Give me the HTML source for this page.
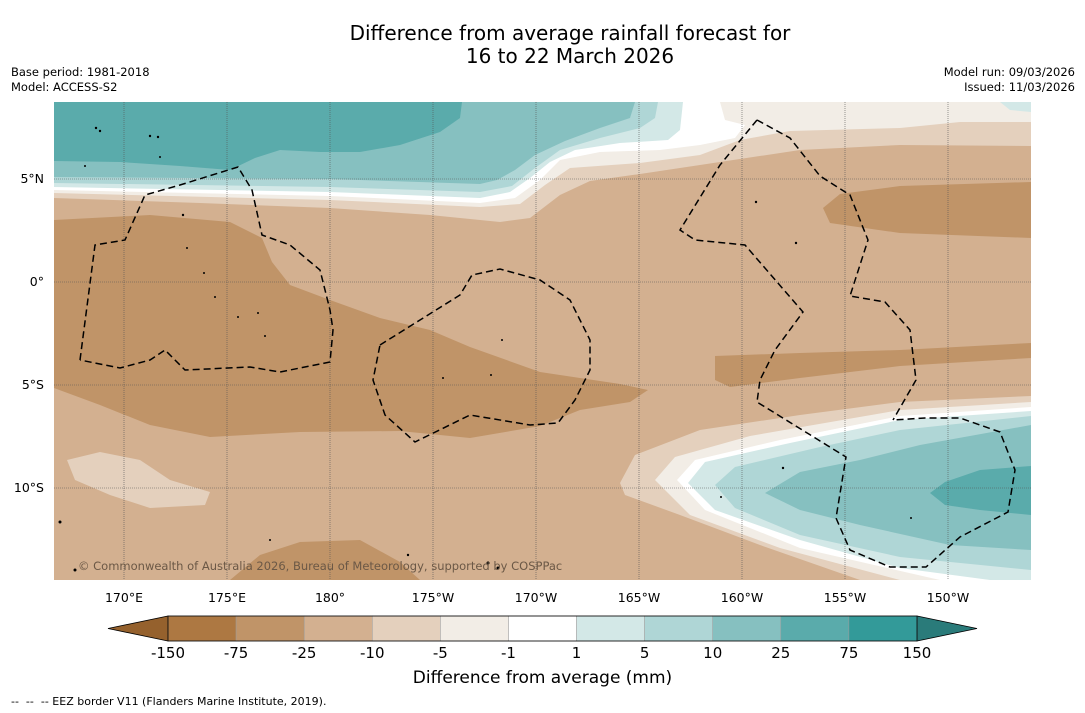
<!DOCTYPE html>
<html><head><meta charset="utf-8">
<style>
body{margin:0;background:#fff;font-family:"DejaVu Sans","Liberation Sans",sans-serif;}
#wrap{position:relative;width:1085px;height:713px;overflow:hidden;background:#fff;}
.t{position:absolute;color:#000;white-space:nowrap;}
</style></head><body>
<div id="wrap">
<div class="t" style="left:0;width:1140px;top:22px;text-align:center;font-size:20px;line-height:23px;">Difference from average rainfall forecast for<br>16 to 22 March 2026</div>
<div class="t" style="left:11px;top:65px;font-size:11.5px;line-height:15px;">Base period: 1981-2018<br>Model: ACCESS-S2</div>
<div class="t" style="right:10px;top:65px;font-size:11.5px;line-height:15px;text-align:right;">Model run: 09/03/2026<br>Issued: 11/03/2026</div>
<svg id="svg" width="1085" height="713" style="position:absolute;left:0;top:0">
<defs><clipPath id="clip"><rect x="54" y="102" width="977" height="478"/></clipPath></defs>
<g id="map" clip-path="url(#clip)">
<rect x="54" y="102" width="977" height="478" fill="#d3b090"/>
<polygon fill="#e4d0bd" points="54,102 1031,102 1031,146 900,145 800,150 700,165 640,174 590,181 560,195 530,218 500,222 430,215 330,208 200,203 54,198"/>
<polygon fill="#f2ede6" points="54,102 1031,102 1031,122 960,122 900,128 790,131 740,140 700,155 640,163 570,168 545,185 520,204 480,207 330,200 54,193"/>
<polygon fill="#ffffff" points="54,102 720,102 725,120 745,125 735,138 700,145 660,150 600,152 560,160 540,180 515,198 480,203 330,196 54,190"/>
<polygon fill="#d3e8e7" points="54,102 683,102 680,130 668,140 620,143 575,150 550,162 530,178 510,192 480,198 330,192 54,187"/>
<polygon fill="#afd6d6" points="54,102 658,102 655,118 640,128 600,138 560,150 535,168 512,186 480,192 330,187 54,183"/>
<polygon fill="#86c0c0" points="54,102 635,102 630,118 600,128 565,141 535,155 515,170 497,180 480,184 330,179 54,177"/>
<polygon fill="#5aabab" points="54,102 462,102 460,118 440,132 400,145 360,152 320,152 280,150 255,158 230,170 180,166 120,162 54,161"/>
<polygon fill="#d3e8e7" points="1000,102 1031,102 1031,112 1010,110"/>
<polygon fill="#c09468" points="823,208 840,194 900,186 1031,182 1031,238 900,233 830,223"/>
<polygon fill="#c09468" points="54,220 150,215 230,222 262,238 272,262 290,285 330,300 380,318 430,330 470,347 540,372 620,384 648,390 630,402 580,410 540,426 470,438 400,431 300,432 210,437 150,425 100,405 54,388"/>
<polygon fill="#c09468" points="715,356 800,353 900,350 1031,343 1031,358 900,366 800,378 730,387 715,380"/>
<polygon fill="#e4d0bd" points="67,460 100,452 140,460 170,480 210,492 205,505 150,508 110,495 75,480"/>
<polygon fill="#c09468" points="230,580 260,555 300,542 360,540 400,562 420,580"/>
<polygon fill="#e4d0bd" points="620,483 635,455 700,430 800,415 900,402 1031,396 1031,580 860,580 760,545 680,515 625,495"/>
<polygon fill="#f2ede6" points="655,480 675,457 750,436 900,410 1031,402 1031,580 900,580 780,548 690,515"/>
<polygon fill="#ffffff" points="677,480 695,460 780,440 900,416 1031,407 1031,580 940,580 800,548 705,510"/>
<polygon fill="#d3e8e7" points="688,483 705,462 790,443 900,420 1031,411 1031,580 990,580 900,568 800,540 715,510"/>
<polygon fill="#afd6d6" points="715,485 735,467 820,447 900,430 1031,416 1031,570 900,557 800,535 735,508"/>
<polygon fill="#86c0c0" points="765,493 800,472 860,460 920,445 1031,425 1031,550 950,545 860,525 800,510"/>
<polygon fill="#5aabab" points="930,493 945,482 980,470 1031,466 1031,515 980,510 945,505"/>
<g id="grid" stroke="#555" stroke-width="0.6" stroke-dasharray="1,1" fill="none"></g>
<g fill="none" stroke="#000" stroke-width="1.5" stroke-dasharray="7,4">
<polyline points="80,360 95,245 125,240 145,195 180,185 238,167 252,190 262,235 290,245 320,270 330,310 333,330 330,362 280,372 250,367 185,370 165,350 150,360 120,368 80,360"/>
<polyline points="380,345 420,320 460,295 472,275 500,269 540,280 570,300 590,340 590,370 575,400 558,423 530,425 470,415 415,442 385,415 373,380 380,345"/>
<polyline points="757,120 790,138 820,176 850,195 868,240 850,296 885,302 910,330 916,380 893,420"/>
<polyline points="757,120 720,165 680,230 695,240 745,245 803,312 775,350 760,380 757,402 846,457 836,518 850,550 890,567 926,567 960,537 1008,512 1015,470 1000,432 960,418 925,418 893,420"/>
</g>
<g fill="#000">
<circle cx="96" cy="128" r="1.2"/><circle cx="100" cy="131" r="1.2"/><circle cx="150" cy="136" r="1.2"/><circle cx="158" cy="137" r="1.2"/><circle cx="160" cy="157" r="1"/><circle cx="85" cy="166" r="1"/>
<circle cx="183" cy="215" r="1.2"/><circle cx="187" cy="248" r="1"/><circle cx="204" cy="273" r="1"/><circle cx="215" cy="297" r="1"/><circle cx="238" cy="317" r="1"/><circle cx="258" cy="313" r="1"/><circle cx="265" cy="336" r="1"/>
<circle cx="502" cy="340" r="1"/><circle cx="491" cy="375" r="1"/><circle cx="443" cy="378" r="1"/><circle cx="756" cy="202" r="1.2"/><circle cx="796" cy="243" r="1.2"/><circle cx="783" cy="468" r="1.2"/><circle cx="721" cy="497" r="1"/><circle cx="911" cy="518" r="1"/>
<circle cx="60" cy="522" r="1.5"/><circle cx="270" cy="540" r="1"/><circle cx="408" cy="555" r="1.2"/><circle cx="488" cy="563" r="1.5"/><circle cx="498" cy="568" r="1.5"/><circle cx="75" cy="570" r="1.5"/>
</g>
<text x="78" y="570" font-size="11.5" fill="#6b5846" font-family="DejaVu Sans, sans-serif">© Commonwealth of Australia 2026, Bureau of Meteorology, supported by COSPPac</text>
</g>
<g id="axes" font-family="DejaVu Sans, sans-serif" font-size="12.5" fill="#000"></g>
<g id="cbar" font-family="DejaVu Sans, sans-serif"></g>
</svg>
<div class="t" style="left:0;width:1085px;text-align:center;top:668px;font-size:17px;">Difference from average (mm)</div>
<div class="t" style="left:11px;top:695px;font-size:11px;">-- &nbsp;-- &nbsp;-- EEZ border V11 (Flanders Marine Institute, 2019).</div>
</div>
<script>
const lonLabels=["170°E","175°E","180°","175°W","170°W","165°W","160°W","155°W","150°W"];
const lonValues=[170,175,180,185,190,195,200,205,210];
const latLabels=["5°N","0°","5°S","10°S"];
const latValues=[5,0,-5,-10];
const levelLabels=["-150","-75","-25","-10","-5","-1","1","5","10","25","75","150"];
const levelColors=["#ad7842","#c09468","#d3b090","#e4d0bd","#f2ede6","#ffffff","#d3e8e7","#afd6d6","#86c0c0","#5aabab","#339a99"];
const extColors=["#95612d","#2a7b7a"];
const NS="http://www.w3.org/2000/svg";
const xLon=v=>124+(v-170)*20.6;
const yLat=v=>282-v*20.6;
function mk(tag,attrs,parent){const e=document.createElementNS(NS,tag);for(const k in attrs)e.setAttribute(k,attrs[k]);parent.appendChild(e);return e;}
const grid=document.getElementById('grid'),axes=document.getElementById('axes'),cb=document.getElementById('cbar');
lonValues.forEach((v,i)=>{
 const l=mk('line',{x1:xLon(v),x2:xLon(v),y1:102,y2:580},grid);
 
 
 const t=mk('text',{x:xLon(v),y:602,'text-anchor':'middle'},axes);t.textContent=lonLabels[i];
 
 
});
latValues.forEach((v,i)=>{
 const l=mk('line',{x1:54,x2:1031,y1:yLat(v),y2:yLat(v)},grid);
 
 
 const t=mk('text',{x:44,y:yLat(v)+4,'text-anchor':'end'},axes);t.textContent=latLabels[i];
 
 
});
const cx0=168,cx1=917,cy=616,ch=25,n=levelColors.length,w=(cx1-cx0)/n;
const lt=mk('polygon',{points:`108,${cy+ch/2} ${cx0},${cy} ${cx0},${cy+ch}`,fill:extColors[0],stroke:'#000','stroke-width':0.8},cb);


const rt=mk('polygon',{points:`977,${cy+ch/2} ${cx1},${cy} ${cx1},${cy+ch}`,fill:extColors[1],stroke:'#000','stroke-width':0.8},cb);


levelColors.forEach((c,i)=>{
 const r=mk('rect',{x:cx0+i*w,y:cy,width:w,height:ch,fill:c,stroke:'#999','stroke-width':0.5},cb);
 
 
});
const fr=mk('rect',{x:cx0,y:cy,width:cx1-cx0,height:ch,fill:'none',stroke:'#000','stroke-width':0.8},cb);


levelLabels.forEach((s,i)=>{
 const t=mk('text',{x:cx0+i*w,y:658,'text-anchor':'middle','font-size':15},cb);t.textContent=s;
 
 
});
</script>
</body></html>
